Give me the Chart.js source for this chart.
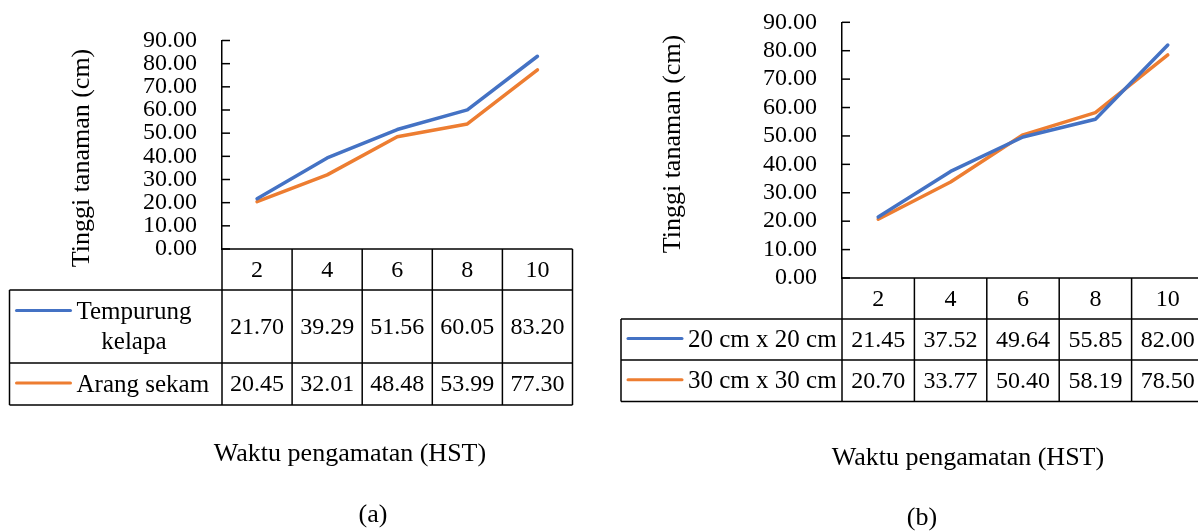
<!DOCTYPE html>
<html>
<head>
<meta charset="utf-8">
<script src="https://cdn.jsdelivr.net/npm/chart.js@4.4.0/dist/chart.umd.min.js"></script>
<style>
  html, body { margin: 0; padding: 0; background: #fff; width: 1198px; height: 532px; overflow: hidden; }
  .panel { position: absolute; top: 0; }
  #panelA { left: 0; }
  #panelB { left: 599px; }
</style>
</head>
<body>
<div class="panel" id="panelA"><canvas id="chartA" width="599" height="532"></canvas></div>
<div class="panel" id="panelB"><canvas id="chartB" width="620" height="532"></canvas></div>
<script>
// waktu pengamatan (HST)
const hst = ["2", "4", "6", "8", "10"];

// (a) media
const tempurungKelapa = [21.70, 39.29, 51.56, 60.05, 83.20];
const arangSekam = [20.45, 32.01, 48.48, 53.99, 77.30];

// (b) jarak tanam
const jarak20 = [21.45, 37.52, 49.64, 55.85, 82.00];
const jarak30 = [20.70, 33.77, 50.40, 58.19, 78.50];

const yMin = 0;
const yMax = 90;
const yStep = 10;

const FONT = "'Liberation Serif', 'Times New Roman', serif";
const BLUE = "#4472C4";
const ORANGE = "#ED7D31";

// draws inside ticks, the data table under the plot and the titles
const tablePlugin = {
  id: "dataTable",
  afterDraw(chart, args, o) {
    const { ctx, chartArea: area } = chart;
    const x = chart.scales.x;
    const y = chart.scales.y;
    const n = chart.data.labels.length;
    const colW = x.getPixelForValue(1) - x.getPixelForValue(0);
    const left = x.getPixelForValue(0) - colW / 2;
    const right = left + colW * n;

    const rows = [area.bottom];
    o.rowHeights.forEach((h) => rows.push(rows[rows.length - 1] + h));
    const bottom = rows[rows.length - 1];

    ctx.save();
    ctx.strokeStyle = "#000";
    ctx.lineWidth = 1.5;

    // inside tick marks
    y.ticks.forEach((t) => {
      const yy = y.getPixelForValue(t.value);
      ctx.beginPath();
      ctx.moveTo(area.left, yy);
      ctx.lineTo(area.left + 8, yy);
      ctx.stroke();
    });

    // table grid
    const hline = (yy, x0) => {
      ctx.beginPath();
      ctx.moveTo(x0, yy);
      ctx.lineTo(right, yy);
      ctx.stroke();
    };
    hline(rows[0], left);
    for (let r = 1; r < rows.length; r++) hline(rows[r], o.tableLeft);
    for (let k = 0; k <= n; k++) {
      ctx.beginPath();
      ctx.moveTo(left + k * colW, rows[0]);
      ctx.lineTo(left + k * colW, bottom);
      ctx.stroke();
    }
    ctx.beginPath();
    ctx.moveTo(o.tableLeft, rows[1]);
    ctx.lineTo(o.tableLeft, bottom);
    ctx.stroke();

    ctx.fillStyle = "#000";
    ctx.textAlign = "center";
    ctx.textBaseline = "middle";

    // header: HST
    ctx.font = "24px " + FONT;
    chart.data.labels.forEach((lab, i) => {
      ctx.fillText(lab, x.getPixelForValue(i), (rows[0] + rows[1]) / 2 + 1);
    });

    // one row per series
    chart.data.datasets.forEach((ds, r) => {
      const top = rows[r + 1];
      const h = rows[r + 2] - top;
      const mid = top + h / 2 + 1;
      ctx.font = "24px " + FONT;
      ds.data.forEach((v, i) => {
        ctx.fillText(v.toFixed(2), x.getPixelForValue(i), mid);
      });

      // legend key + name, wrapped to the cell
      ctx.font = "25px " + FONT;
      const keyX0 = o.tableLeft + 7;
      const keyX1 = keyX0 + 54;
      const textX = keyX1 + 6;
      const avail = left - textX - 3;
      const words = ds.label.split(" ");
      const lines = [];
      let cur = "";
      words.forEach((w) => {
        const test = cur ? cur + " " + w : w;
        if (cur && ctx.measureText(test).width > avail) {
          lines.push(cur);
          cur = w;
        } else {
          cur = test;
        }
      });
      lines.push(cur);
      const lh = 30;
      const blockW = Math.max(...lines.map((l) => ctx.measureText(l).width));
      const firstY = mid - ((lines.length - 1) * lh) / 2;
      lines.forEach((l, j) => {
        ctx.fillText(l, textX + blockW / 2, firstY + j * lh);
      });
      ctx.strokeStyle = ds.borderColor;
      ctx.lineWidth = 3;
      ctx.lineCap = "round";
      ctx.beginPath();
      ctx.moveTo(keyX0, firstY - 2);
      ctx.lineTo(keyX1, firstY - 2);
      ctx.stroke();
      ctx.strokeStyle = "#000";
      ctx.lineWidth = 1.5;
    });

    // titles
    ctx.font = "26px " + FONT;
    ctx.fillText(o.xTitle.text, o.xTitle.x, o.xTitle.y);
    ctx.fillText(o.caption.text, o.caption.x, o.caption.y);
    ctx.translate(o.yTitle.x, o.yTitle.y);
    ctx.rotate(-Math.PI / 2);
    ctx.fillText(o.yTitle.text, 0, 0);
    ctx.restore();
  },
};

function makeChart(id, names, values, geo) {
  return new Chart(document.getElementById(id), {
    type: "line",
    data: {
      labels: hst,
      datasets: [
        { label: names[0], data: values[0], borderColor: BLUE, backgroundColor: BLUE },
        { label: names[1], data: values[1], borderColor: ORANGE, backgroundColor: ORANGE },
      ],
    },
    options: {
      responsive: false,
      animation: false,
      devicePixelRatio: 1,
      layout: { padding: geo.padding },
      elements: {
        line: { borderWidth: 3.5, tension: 0, borderCapStyle: "round", borderJoinStyle: "round" },
        point: { radius: 0 },
      },
      plugins: {
        legend: { display: false },
        tooltip: { enabled: false },
        dataTable: geo.table,
      },
      scales: {
        x: { display: false, offset: true },
        y: {
          min: yMin,
          max: yMax,
          afterFit: (s) => {
            s.width = geo.axisX;
            s.paddingTop = 0;
            s.paddingBottom = 0;
          },
          ticks: {
            stepSize: yStep,
            autoSkip: false,
            padding: 25,
            color: "#000",
            font: { family: FONT, size: 24 },
            callback: (v) => Number(v).toFixed(2),
          },
          grid: { display: false, drawTicks: false },
          border: { display: true, color: "#000", width: 1.5 },
        },
      },
    },
    plugins: [tablePlugin],
  });
}

makeChart("chartA", ["Tempurung kelapa", "Arang sekam"], [tempurungKelapa, arangSekam], {
  axisX: 222,
  padding: { left: 0, top: 40.5, right: 26.5, bottom: 283 },
  table: {
    tableLeft: 9.5,
    rowHeights: [41, 73, 42],
    xTitle: { text: "Waktu pengamatan (HST)", x: 350, y: 454 },
    caption: { text: "(a)", x: 373, y: 515 },
    yTitle: { text: "Tinggi tanaman (cm)", x: 82, y: 158 },
  },
});

makeChart("chartB", ["20 cm x 20 cm", "30 cm x 30 cm"], [jarak20, jarak30], {
  axisX: 243,
  padding: { left: 0, top: 22.3, right: 15, bottom: 254 },
  table: {
    tableLeft: 22,
    rowHeights: [41, 41, 41.5],
    xTitle: { text: "Waktu pengamatan (HST)", x: 369, y: 458 },
    caption: { text: "(b)", x: 323, y: 518 },
    yTitle: { text: "Tinggi tanaman (cm)", x: 74, y: 144 },
  },
});
</script>
</body>
</html>
